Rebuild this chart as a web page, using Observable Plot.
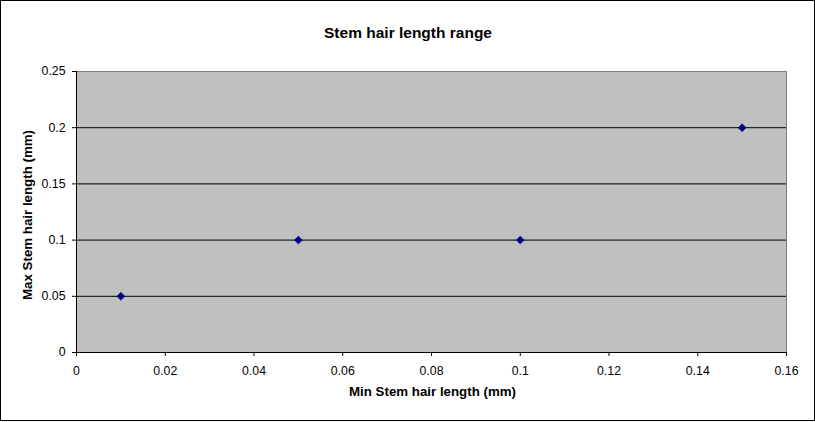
<!DOCTYPE html>
<html><head><meta charset="utf-8">
<script src="https://cdn.jsdelivr.net/npm/d3@7"></script>
<script src="https://cdn.jsdelivr.net/npm/@observablehq/plot@0.6"></script>
<style>
body{margin:0;background:#fff}
#chart svg{display:block; outline:1px solid #000; outline-offset:-1px}
</style></head><body><div id="chart"></div>
<script>
const title = "Stem hair length range";
const xLabel = "Min Stem hair length (mm)";
const yLabel = "Max Stem hair length (mm)";
const minLength = [0.01, 0.05, 0.1, 0.15];
const maxLength = [0.05, 0.1, 0.1, 0.2];
const xTicks = [0, 0.02, 0.04, 0.06, 0.08, 0.1, 0.12, 0.14, 0.16];
const yTicks = [0, 0.05, 0.1, 0.15, 0.2, 0.25];
const points = minLength.map((x, i) => ({x, y: maxLength[i]}));
const font = "Arial, 'Liberation Sans', sans-serif";

const chart = Plot.plot({
  width: 815, height: 421,
  marginLeft: 76, marginRight: 29, marginTop: 71, marginBottom: 69,
  style: {fontFamily: font, fontSize: "12px", color: "#000", background: "#fff"},
  x: {domain: [0, 0.16]},
  y: {domain: [0, 0.25]},
  marks: [
    Plot.frame({fill: "#c0c0c0", stroke: "#808080"}),
    Plot.ruleY(yTicks.slice(1, -1), {stroke: "#000"}),
    Plot.axisX(xTicks, {tickFormat: d => String(d), tickSize: 4, tickPadding: 10, label: null, fontSize: 12.3, stroke: "#000"}),
    Plot.axisY(yTicks, {tickFormat: d => String(d), tickSize: 4, tickPadding: 7, label: null, fontSize: 12.3, stroke: "#000"}),
    Plot.ruleX([0], {stroke: "#000"}),
    Plot.ruleY([0], {stroke: "#000"}),
    Plot.dot(points, {x: "x", y: "y", symbol: "diamond2", r: 3.6, fill: "#000080", stroke: "#000080", strokeWidth: 0.5}),
    Plot.text([title], {frameAnchor: "top", dx: -23.5, dy: -45, fontSize: 15.5, fontWeight: "bold", fill: "#000"}),
    Plot.text([xLabel], {frameAnchor: "bottom", dx: 1, dy: 43, fontSize: 13.3, fontWeight: "bold", fill: "#000"}),
    Plot.text([yLabel], {frameAnchor: "left", textAnchor: "middle", dx: -49, dy: 3, rotate: -90, fontSize: 13.3, fontWeight: "bold", fill: "#000"})
  ]
});
document.getElementById("chart").append(chart);
</script>
</body></html>
